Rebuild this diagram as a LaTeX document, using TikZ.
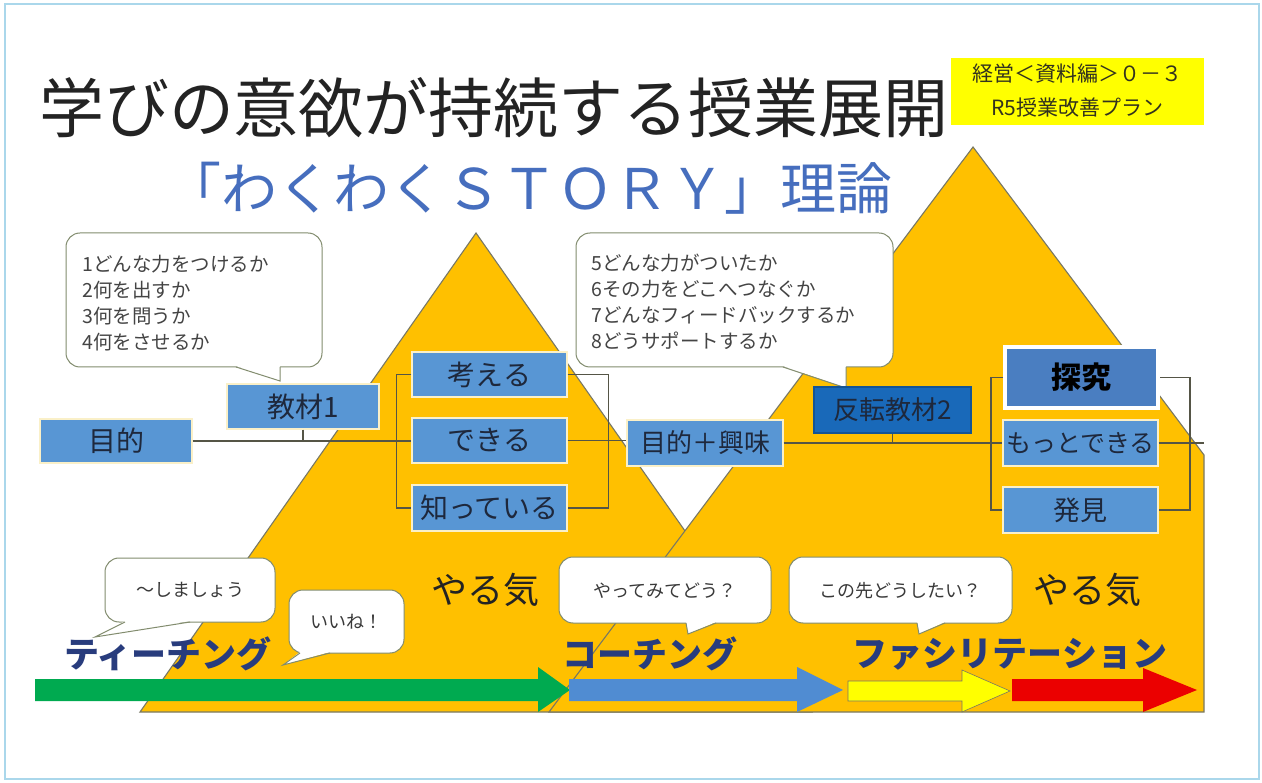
\documentclass[tikz,border=0pt]{standalone}
\usepackage{fontspec}
\setmainfont{Noto Sans CJK JP}
\usetikzlibrary{calc}
\definecolor{orng}{RGB}{255,192,0}
\definecolor{tribd}{RGB}{120,120,100}
\definecolor{boxblue}{RGB}{88,150,212}
\definecolor{boxbd}{RGB}{250,240,200}
\definecolor{darkbox}{RGB}{25,105,185}
\definecolor{tkblue}{RGB}{74,126,193}
\definecolor{boxtxt}{RGB}{30,40,60}
\definecolor{linec}{RGB}{85,85,70}
\definecolor{navy}{RGB}{40,60,125}
\definecolor{bubbd}{RGB}{130,140,110}
\definecolor{framec}{RGB}{170,215,235}
\definecolor{subblue}{RGB}{70,110,190}
\definecolor{agreen}{RGB}{0,170,80}
\definecolor{ablue}{RGB}{80,140,210}
\definecolor{ayellow}{RGB}{255,255,0}
\definecolor{ared}{RGB}{235,0,0}
\definecolor{titlec}{RGB}{35,35,35}
\definecolor{notec}{RGB}{50,50,30}
\newcommand{\bubshape}[8]{%
  \draw[bubble] (#1,#2) rectangle (#3,#4);
  \fill[white] (#5,#4-1) -- (#7,#8) -- (#6,#4-1) -- cycle;
  \draw[bubbd, line width=1] (#5,#4) -- (#7,#8) -- (#6,#4);
}
\tikzset{
  bubble/.style={draw=bubbd, line width=1, fill=white, rounded corners=14},
  bbox/.style={draw=boxbd, line width=1.2, fill=boxblue, text=boxtxt,
    font=\fontsize{28}{30}\selectfont, inner sep=0, minimum width=155, minimum height=45},
  conn/.style={draw=linec, line width=1.6},
  bubtext/.style={font=\fontsize{19.5}{26}\selectfont, text=titlec!85, align=left, inner sep=0, anchor=west},
  smalltext/.style={font=\fontsize{18}{20}\selectfont, text=titlec!90, inner sep=0},
  kata/.style={font=\fontsize{35}{38}\selectfont\bfseries, text=navy, inner sep=0},
  yaruki/.style={font=\fontsize{36}{38}\selectfont, text=titlec, inner sep=0},
  tri/.style={fill=orng, draw=tribd, line width=1.1},
  blockarrow/.style={line width=0.6}
}
\begin{document}
\begin{tikzpicture}[x=1pt,y=-1pt]
\useasboundingbox (0,0) rectangle (1262,783);
\fill[white] (0,0) rectangle (1262,783);
\draw[framec, line width=1.5] (5,4) rectangle (1259,779);

% triangles
\draw[tri] (140,712) -- (476,233) -- (812,712) -- cycle;
\draw[tri] (549,712) -- (973,147) -- (1204,455) -- (1204,712) -- cycle;

% title
\node[font=\fontsize{65}{70}\selectfont, text=titlec, inner sep=0] (title) at (494,108) {学びの意欲が持続する授業展開};
\node[font=\fontsize{56}{60}\selectfont, text=subblue, inner sep=0] (subtitle) at (529,188) {「わくわくＳＴＯＲＹ」理論};

% yellow note
\fill[ayellow] (951,58) rectangle (1204,125);
\node[font=\fontsize{21}{24}\selectfont, text=notec, inner sep=0] (note1) at (1077,74) {経営＜資料編＞０－３};
\node[font=\fontsize{21}{24}\selectfont, text=notec, inner sep=0] (note2) at (1077,108) {R5授業改善プラン};

% big speech bubbles
\bubshape{66}{233}{322}{367}{236}{280}{280}{381}
\node[bubtext] (q1) at (82,303) {1どんな力をつけるか\\2何を出すか\\3何を問うか\\4何をさせるか};
\bubshape{576}{233}{893}{367}{783}{846}{846}{388}
\node[bubtext] (q2) at (591,302) {5どんな力がついたか\\6その力をどこへつなぐか\\7どんなフィードバックするか\\8どうサポートするか};

% boxes
\node[bbox, minimum width=152, minimum height=44] (mok) at (116,441) {目的};
\node[bbox, minimum width=152] (kyo) at (303,406.5) {教材1};
\node[bbox] (kan) at (489.5,374.5) {考える};
\node[bbox] (dek) at (489.5,440.5) {できる};
\node[bbox, minimum height=46] (shi) at (489.5,508) {知っている};
\node[bbox, minimum width=156, minimum height=46, font=\fontsize{26}{28}\selectfont] (mok2) at (705,443) {目的＋興味};
\node[bbox, fill=darkbox, draw=darkbox!80!black, minimum width=157, minimum height=46, font=\fontsize{26}{28}\selectfont] (han) at (892.5,410) {反転教材2};
\node[bbox, fill=tkblue, draw=white, line width=4.5, minimum width=153, minimum height=61, text=black, font=\fontsize{30}{32}\selectfont\bfseries] (tan) at (1081.5,377.5) {探究};
\node[bbox, minimum height=46, font=\fontsize{25}{28}\selectfont] (mot) at (1080.5,443) {もっとできる};
\node[bbox, minimum height=46, font=\fontsize{27}{28}\selectfont] (hak) at (1080.5,510) {発見};
\coordinate (rend) at (1204,443);

% connectors
\draw[conn] (mok.east) -- (mok.east -| dek.west);
\draw[conn] (kyo.south) -- (kyo.south |- mok.east);
\draw[conn] (kan.west) -- ++(-15,0) |- (shi.west);
\draw[conn] (kan.east) -- ++(41,0) |- (shi.east);
\draw[conn] (dek.east) -- (dek.east -| mok2.west);
\draw[conn] (mok2.east) -- (mok2.east -| mot.west);
\draw[conn] (han.south) -- (han.south |- mok2.east);
\draw[conn] (tan.west) -- ++(-12,0) |- (hak.west);
\draw[conn] (tan.east) -- ++(30,0) |- (hak.east);
\draw[conn] (mot.east) -- (rend);

% yaruki
\node[yaruki] (yk1) at (485,590) {やる気};
\node[yaruki] (yk2) at (1087,590) {やる気};

% small bubbles
\bubshape{105}{558}{275}{622}{125}{190}{95}{637}
\node[smalltext] (b1) at (190,590) {～しましょう};
\bubshape{289}{590}{404}{653}{300}{330}{283}{665}
\node[smalltext] (b2) at (346,622) {いいね！};
\bubshape{559}{557}{771}{623}{686}{716}{688}{634}
\node[smalltext] (b3) at (665,591) {やってみてどう？};
\bubshape{789}{557}{1012}{623}{917}{945}{919}{634}
\node[smalltext] (b4) at (900,591) {この先どうしたい？};

% katakana labels
\node[kata] (teach) at (168,654) {ティーチング};
\node[kata] (coach) at (650,654) {コーチング};
\node[kata] (facil) at (1010,654) {ファシリテーション};

% block arrows
\fill[agreen] (35,679) -- (538,679) -- (538,667) -- (570,690) -- (538,712) -- (538,701) -- (35,701) -- cycle;
\fill[ablue] (569,679) -- (797,679) -- (797,667) -- (843,690) -- (797,712) -- (797,701) -- (569,701) -- cycle;
\filldraw[fill=ayellow, draw=tribd, line width=0.6] (848,681) -- (962,681) -- (962,670) -- (1010,691) -- (962,712) -- (962,701) -- (848,701) -- cycle;
\fill[ared] (1012,679) -- (1143,679) -- (1143,668) -- (1197,690) -- (1143,712) -- (1143,701) -- (1012,701) -- cycle;
\end{tikzpicture}
\end{document}
